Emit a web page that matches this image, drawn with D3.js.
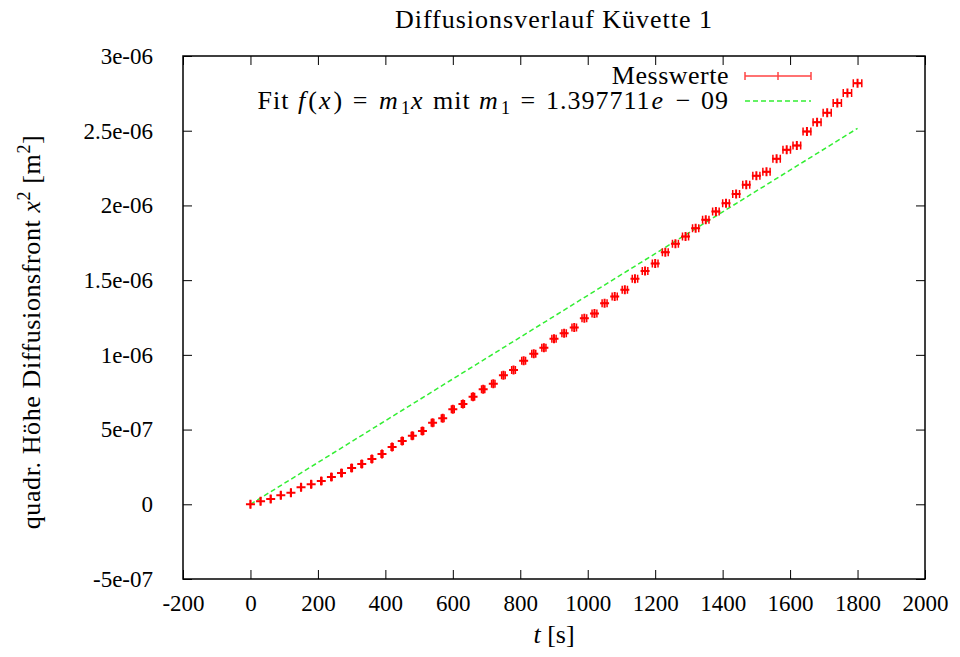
<!DOCTYPE html>
<html>
<head>
<meta charset="utf-8">
<script src="https://cdn.jsdelivr.net/npm/d3@7"></script>
<style>
  body { margin: 0; background: #fff; }
  svg text { font-family: "Liberation Serif", "Times New Roman", serif; font-size: 26px; fill: #000; }
  svg .tick text { font-size: 23px; }
</style>
</head>
<body>
<svg width="960" height="657"></svg>
<script>
// Messwerte: Zeit t [s] und quadr. Höhe x^2 [m^2]
var tValues = [0, 30, 60, 90, 120, 150, 180, 210, 240, 270,
  300, 330, 360, 390, 420, 450, 480, 510, 540, 570,
  600, 630, 660, 690, 720, 750, 780, 810, 840, 870,
  900, 930, 960, 990, 1020, 1050, 1080, 1110, 1140, 1170,
  1200, 1230, 1260, 1290, 1320, 1350, 1380, 1410, 1440, 1470,
  1500, 1530, 1560, 1590, 1620, 1650, 1680, 1710, 1740, 1770, 1800];

var x2Values = [0, 0.021e-6, 0.035e-6, 0.060e-6, 0.078e-6, 0.114e-6, 0.134e-6, 0.156e-6, 0.182e-6, 0.209e-6,
  0.243e-6, 0.270e-6, 0.303e-6, 0.337e-6, 0.384e-6, 0.424e-6, 0.459e-6, 0.491e-6, 0.546e-6, 0.576e-6,
  0.636e-6, 0.671e-6, 0.720e-6, 0.770e-6, 0.806e-6, 0.864e-6, 0.899e-6, 0.960e-6, 1.007e-6, 1.047e-6,
  1.107e-6, 1.145e-6, 1.183e-6, 1.245e-6, 1.276e-6, 1.346e-6, 1.390e-6, 1.435e-6, 1.509e-6, 1.562e-6,
  1.611e-6, 1.687e-6, 1.743e-6, 1.792e-6, 1.848e-6, 1.904e-6, 1.959e-6, 2.015e-6, 2.077e-6, 2.138e-6,
  2.198e-6, 2.225e-6, 2.312e-6, 2.372e-6, 2.401e-6, 2.494e-6, 2.556e-6, 2.621e-6, 2.686e-6, 2.753e-6, 2.818e-6];

var tErrRel = 0.007;      // relativer Fehler der Zeit
var m1 = 1.397711e-09;    // Fitparameter f(x) = m1*x
var fitRange = [0, 1800];

var xTicks = [-200, 0, 200, 400, 600, 800, 1000, 1200, 1400, 1600, 1800, 2000];
var xTickLabels = ["-200", "0", "200", "400", "600", "800", "1000", "1200", "1400", "1600", "1800", "2000"];
var yTicks = [-5e-07, 0, 5e-07, 1e-06, 1.5e-06, 2e-06, 2.5e-06, 3e-06];
var yTickLabels = ["-5e-07", "0", "5e-07", "1e-06", "1.5e-06", "2e-06", "2.5e-06", "3e-06"];

var svg = d3.select("svg"),
    margin = {top: 56, right: 35, bottom: 78, left: 183},
    width = +svg.attr("width") - margin.left - margin.right,
    height = +svg.attr("height") - margin.top - margin.bottom;

var x = d3.scaleLinear().domain([-200, 2000]).range([0, width]);
var y = d3.scaleLinear().domain([-5e-07, 3e-06]).range([height, 0]);

var g = svg.append("g")
    .attr("transform", "translate(" + margin.left + "," + margin.top + ")");

function noDomain(sel) { sel.select(".domain").remove(); sel.attr("font-family", null).attr("font-size", null); }

// axes, ticks pointing inwards, mirrored on top/right
g.append("g")
    .attr("transform", "translate(0," + height + ")")
    .call(d3.axisBottom(x).tickValues(xTicks).tickFormat(function(d, i) { return xTickLabels[i]; })
      .tickSizeInner(-9).tickSizeOuter(0).tickPadding(16))
    .call(noDomain);
g.append("g")
    .call(d3.axisTop(x).tickValues(xTicks).tickFormat("").tickSizeInner(-9).tickSizeOuter(0))
    .call(noDomain);
g.append("g")
    .call(d3.axisLeft(y).tickValues(yTicks).tickFormat(function(d, i) { return yTickLabels[i]; })
      .tickSizeInner(-9).tickSizeOuter(0).tickPadding(30))
    .call(noDomain);
g.append("g")
    .attr("transform", "translate(" + width + ",0)")
    .call(d3.axisRight(y).tickValues(yTicks).tickFormat("").tickSizeInner(-9).tickSizeOuter(0))
    .call(noDomain);

g.selectAll(".tick line").attr("stroke", "#000").attr("stroke-width", 1);

g.append("rect")
    .attr("width", width).attr("height", height)
    .attr("fill", "none").attr("stroke", "#000").attr("stroke-width", 1.5);

// fit line
var fitLine = d3.line()
    .x(function(d) { return x(d); })
    .y(function(d) { return y(m1 * d); });

g.append("path")
    .datum(fitRange)
    .attr("d", fitLine)
    .attr("fill", "none")
    .attr("stroke", "#33ee33")
    .attr("stroke-width", 1.5)
    .attr("stroke-dasharray", "5,3");

// data points with x error bars
var data = tValues.map(function(t, i) { return {t: t, v: x2Values[i], e: t * tErrRel}; });
var cap = 4, ps = 4.5;

var pt = g.append("g").attr("class", "points")
    .selectAll("g").data(data).enter().append("g")
    .attr("stroke", "#ff0000");

pt.append("path")
    .attr("stroke-width", 1.5)
    .attr("fill", "none")
    .attr("d", function(d) {
      var x0 = x(d.t - d.e), x1 = x(d.t + d.e), yy = y(d.v);
      return "M" + x0 + "," + yy + "H" + x1 +
        "M" + x0 + "," + (yy - cap) + "V" + (yy + cap) +
        "M" + x1 + "," + (yy - cap) + "V" + (yy + cap);
    });

pt.append("path")
    .attr("stroke-width", 2)
    .attr("d", function(d) {
      var xx = x(d.t), yy = y(d.v);
      return "M" + (xx - ps) + "," + yy + "H" + (xx + ps) +
        "M" + xx + "," + (yy - ps) + "V" + (yy + ps);
    });

// legend
var legX = 745 - margin.left, legX2 = 811 - margin.left, legTextX = 729 - margin.left;
var row1 = 76 - margin.top, row2 = 101 - margin.top;

var leg = g.append("g").attr("class", "legend");
leg.append("text").attr("x", legTextX).attr("y", row1).attr("dy", "0.3em")
    .attr("text-anchor", "end").style("letter-spacing", "0.5px").text("Messwerte");
leg.append("path")
    .attr("stroke", "#ff4444").attr("stroke-width", 1.5).attr("fill", "none")
    .attr("d", "M" + legX + "," + row1 + "H" + legX2 +
      "M" + legX + "," + (row1 - cap) + "V" + (row1 + cap) +
      "M" + legX2 + "," + (row1 - cap) + "V" + (row1 + cap) +
      "M" + ((legX + legX2) / 2) + "," + (row1 - cap) + "V" + (row1 + cap) +
      "M" + ((legX + legX2) / 2 - cap) + "," + row1 + "H" + ((legX + legX2) / 2 + cap));

// fit label as one string, italic only where TeX would set math letters
var mParts = m1.toExponential(6).split("e");
var expo = Math.abs(+mParts[1]);
var sp = "\u2004";
var fitText = leg.append("text").attr("x", legTextX).attr("y", row2).attr("dy", "0.3em")
    .attr("text-anchor", "end").style("letter-spacing", "1px");
var parts = [["Fit ", 0], ["f", 1], ["(", 0], ["x", 1], [")" + sp + "=" + sp, 0], ["m", 1], ["1", 2], ["x", 1],
  [" mit ", 0], ["m", 1], ["1", 2], [sp + "=" + sp + mParts[0], 0], ["e", 1],
  [sp + "\u2212" + sp + (expo < 10 ? "0" : "") + expo, 0]];
parts.forEach(function(p, i) {
  var s = fitText.append("tspan").text(p[0]);
  if (p[1] === 1) s.attr("font-style", "italic");
  if (p[1] === 2) s.style("font-size", "18px").attr("baseline-shift", "-5");
  if (i > 0 && parts[i - 1][1] === 1) s.attr("dx", 2);
  if (p[1] === 1 && i > 0 && parts[i - 1][1] === 0) s.attr("dx", 1);
});
leg.append("path")
    .attr("stroke", "#33ee33").attr("stroke-width", 1.5).attr("stroke-dasharray", "5,3")
    .attr("d", "M" + legX + "," + row2 + "H" + legX2);

// titles
svg.append("text")
    .attr("x", margin.left + width / 2).attr("y", 28)
    .attr("text-anchor", "middle")
    .style("letter-spacing", "1px")
    .text("Diffusionsverlauf Küvette 1");

var xl = svg.append("text")
    .attr("x", margin.left + width / 2).attr("y", 643)
    .attr("text-anchor", "middle");
xl.append("tspan").attr("font-style", "italic").text("t");
xl.append("tspan").text(" [s]");

var yl = svg.append("text")
    .attr("transform", "translate(40,332) rotate(-90)")
    .attr("text-anchor", "middle")
    .style("letter-spacing", "0.6px");
yl.append("tspan").text("quadr. Höhe Diffusionsfront ");
yl.append("tspan").attr("font-style", "italic").text("x");
yl.append("tspan").style("font-size", "18px").attr("baseline-shift", "10").text("2");
yl.append("tspan").text(" [m");
yl.append("tspan").style("font-size", "18px").attr("baseline-shift", "10").text("2");
yl.append("tspan").text("]");
</script>
</body>
</html>
